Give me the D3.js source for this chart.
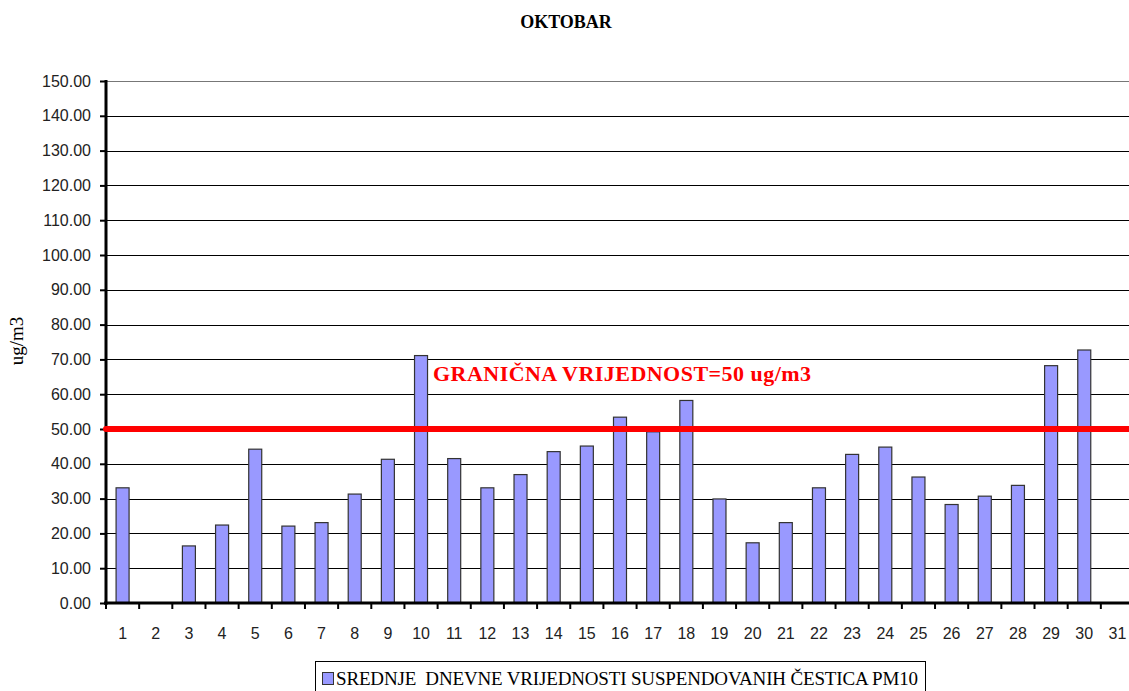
<!DOCTYPE html>
<html>
<head>
<meta charset="utf-8">
<script src="https://cdn.jsdelivr.net/npm/d3@7"></script>
<style>
  body { margin: 0; background: #fff; }
  svg { display: block; }
  .serif { font-family: "Liberation Serif", "DejaVu Serif", "Times New Roman", serif; }
  .sans { font-family: "Liberation Sans", Arial, sans-serif; }
</style>
</head>
<body>
<svg></svg>
<script>
let width = 1129;
let height = 691;

// days of the month
let days = d3.range(1, 32).map(String);

// daily PM10 means (ug/m3), null = no measurement
let pm10 = [33.1, null, 16.4, 22.4, 44.2, 22.1, 23.1, 31.3, 41.3, 71.1,
            41.5, 33.1, 36.9, 43.5, 45.1, 53.4, 49.2, 58.2, 29.9, 17.3,
            23.1, 33.1, 42.7, 44.8, 36.2, 28.3, 30.7, 33.8, 68.2, 72.7, null];

let yTicks = d3.range(0, 151, 10);
let limitValue = 50;

let title = 'OKTOBAR';
let yLabel = 'ug/m3';
let limitLabel = 'GRANIČNA VRIJEDNOST=50 ug/m3';
let legendLabel = 'SREDNJE  DNEVNE VRIJEDNOSTI SUSPENDOVANIH ČESTICA PM10';

let data = days.map((d, i) => ({day: d, value: pm10[i]}));

let svg = d3.select('svg')
  .attr('width', width)
  .attr('height', height);

let x = d3.scaleBand()
  .domain(days)
  .range([106, 1134]);

let y = d3.scaleLinear()
  .domain([0, 150])
  .range([603, 81]);

// gridlines
svg.append('g')
  .selectAll('line')
  .data(yTicks.filter(t => t > 0))
  .enter()
  .append('line')
    .attr('x1', 106)
    .attr('x2', width)
    .attr('y1', d => Math.round(y(d)) + 0.5)
    .attr('y2', d => Math.round(y(d)) + 0.5)
    .attr('stroke', d => d === 150 ? '#777' : '#000')
    .attr('stroke-width', 1);

// y axis
let yAxis = svg.append('g')
  .attr('transform', 'translate(106,0)')
  .call(d3.axisLeft(y).tickValues(yTicks).tickFormat(d3.format('.2f')).tickSize(6).tickPadding(9));

yAxis.select('.domain').remove();
yAxis.selectAll('.tick line').attr('stroke', '#000').attr('stroke-width', 2);
yAxis.selectAll('.tick text')
  .attr('fill', '#222')
  .attr('class', 'sans')
  .style('font-size', '16px');
yAxis.attr('font-family', null);

// bars
svg.append('g')
  .selectAll('rect')
  .data(data.filter(d => d.value != null))
  .enter()
  .append('rect')
    .attr('x', d => x(d.day) + x.bandwidth() / 2 - 6.5)
    .attr('width', 13)
    .attr('y', d => y(d.value))
    .attr('height', d => y(0) - y(d.value))
    .attr('fill', '#9999ff')
    .attr('stroke', '#333')
    .attr('stroke-width', 1.2);

// x axis
let xAxis = svg.append('g')
  .attr('transform', 'translate(0,603)');

xAxis.append('line')
  .attr('x1', 104)
  .attr('x2', width)
  .attr('y1', 0)
  .attr('y2', 0)
  .attr('stroke', '#000')
  .attr('stroke-width', 3);

xAxis.selectAll('.xtick')
  .data(days)
  .enter()
  .append('line')
    .classed('xtick', true)
    .attr('x1', d => x(d))
    .attr('x2', d => x(d))
    .attr('y1', 0)
    .attr('y2', 6)
    .attr('stroke', '#000')
    .attr('stroke-width', 2);

xAxis.selectAll('text')
  .data(days)
  .enter()
  .append('text')
    .attr('class', 'sans')
    .attr('x', d => x(d) + x.bandwidth() / 2)
    .attr('y', 36)
    .attr('text-anchor', 'middle')
    .attr('fill', '#222')
    .style('font-size', '16px')
    .text(d => d);

// vertical axis line
svg.append('line')
  .attr('x1', 106)
  .attr('x2', 106)
  .attr('y1', 80)
  .attr('y2', 605)
  .attr('stroke', '#000')
  .attr('stroke-width', 3);

// limit line
svg.append('line')
  .attr('x1', 106)
  .attr('x2', width)
  .attr('y1', y(limitValue))
  .attr('y2', y(limitValue))
  .attr('stroke', '#ff0000')
  .attr('stroke-width', 6)
  .attr('stroke-linecap', 'round');

svg.append('text')
  .attr('class', 'serif')
  .attr('x', 433)
  .attr('y', 381)
  .attr('fill', '#ff0000')
  .style('font-weight', 'bold')
  .style('font-size', '22px')
  .attr('textLength', 378)
  .text(limitLabel);

// title
svg.append('text')
  .attr('class', 'serif')
  .attr('x', 566)
  .attr('y', 28)
  .attr('text-anchor', 'middle')
  .style('font-weight', 'bold')
  .style('font-size', '18px')
  .text(title);

// y label
svg.append('text')
  .attr('class', 'serif')
  .attr('transform', 'translate(23,341) rotate(-90)')
  .attr('text-anchor', 'middle')
  .style('font-size', '19px')
  .text(yLabel);

// legend
let legend = svg.append('g');

legend.append('rect')
  .attr('x', 315.5)
  .attr('y', 661.5)
  .attr('width', 610)
  .attr('height', 40)
  .attr('fill', '#fff')
  .attr('stroke', '#000')
  .attr('stroke-width', 1);

legend.append('rect')
  .attr('x', 322.5)
  .attr('y', 672.5)
  .attr('width', 11)
  .attr('height', 12)
  .attr('fill', '#9999ff')
  .attr('stroke', '#333');

legend.append('text')
  .attr('class', 'serif')
  .attr('x', 336)
  .attr('y', 685)
  .style('font-size', '19px')
  .style('white-space', 'pre')
  .attr('textLength', 582)
  .text(legendLabel);
</script>
</body>
</html>
